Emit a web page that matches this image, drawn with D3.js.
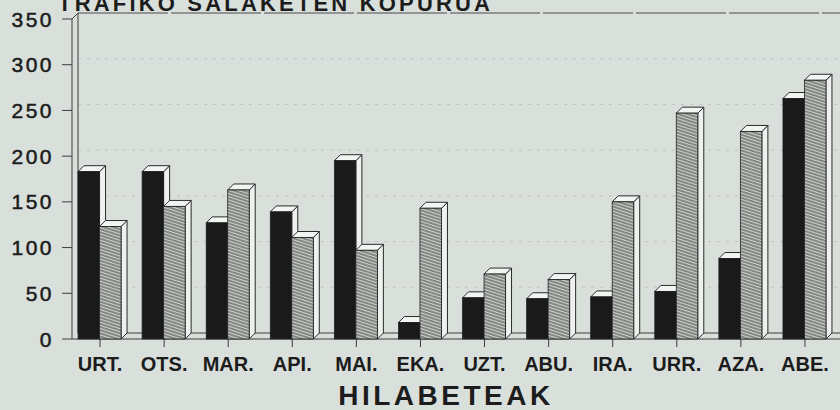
<!DOCTYPE html>
<html>
<head>
<meta charset="utf-8">
<script src="https://cdn.jsdelivr.net/npm/d3@7"></script>
<style>
  html, body { margin: 0; padding: 0; background: #d9dfdb; }
  svg { display: block; }
</style>
</head>
<body>
<svg id="chart"></svg>
<script>
// months (Basque abbreviations)
const hilabeteak = ['URT.', 'OTS.', 'MAR.', 'API.', 'MAI.', 'EKA.', 'UZT.', 'ABU.', 'IRA.', 'URR.', 'AZA.', 'ABE.'];
// dark bars
const serieBeltza = [183, 183, 127, 139, 195, 18, 45, 44, 46, 52, 88, 263];
// hatched bars
const serieMarratua = [123, 145, 163, 111, 97, 143, 71, 65, 150, 247, 227, 283];
const yTicks = [0, 50, 100, 150, 200, 250, 300, 350];

const W = 840, H = 410;
const DX = 6, DY = -6;          // 3D depth offset
const INK = '#1b1c1b';
const FONT = 'Liberation Sans, Arial, sans-serif';

const svg = d3.select('#chart').attr('width', W).attr('height', H);

const defs = svg.append('defs');
const pat = defs.append('pattern')
    .attr('id', 'marrak')
    .attr('patternUnits', 'userSpaceOnUse')
    .attr('width', 6).attr('height', 3)
    .attr('patternTransform', 'rotate(18)');
pat.append('rect').attr('width', 6).attr('height', 3).attr('fill', '#cdd2cd');
pat.append('line')
    .attr('x1', 0).attr('y1', 1).attr('x2', 6).attr('y2', 1)
    .attr('stroke', '#3a3c3a').attr('stroke-width', 1);

// scales
const yScale = d3.scaleLinear().domain([0, 350]).range([339, 19]);
const xScale = d3.scaleBand().domain(hilabeteak).range([68, 837]).padding(0);
const sScale = d3.scaleBand().domain(['b', 'm']).range([-22, 21]).padding(0);

const left = 72, right = 845;

// title (cut at the top of the scan)
svg.append('text')
    .attr('x', 58).attr('y', 11)
    .attr('font-family', FONT)
    .attr('font-weight', 'bold')
    .attr('font-size', 22)
    .attr('textLength', 432)
    .attr('fill', INK)
    .text('TRAFIKO SALAKETEN KOPURUA');

// back wall gridlines
const grid = svg.append('g');
grid.selectAll('line')
    .data(yTicks.filter(d => d > 0 && d < 350))
    .enter().append('line')
    .attr('x1', left + DX).attr('x2', right)
    .attr('y1', d => yScale(d) + DY).attr('y2', d => yScale(d) + DY)
    .attr('stroke', '#b3b9b4').attr('stroke-width', 0.7)
    .attr('stroke-dasharray', '3,6');

// top border of back wall
svg.append('line')
    .attr('x1', left + DX).attr('x2', right)
    .attr('y1', yScale(350) + DY).attr('y2', yScale(350) + DY)
    .attr('stroke', '#4a4d4a').attr('stroke-width', 1)
    .attr('stroke-dasharray', '90,3');

// left wall
const wall = svg.append('g').attr('stroke', '#3c3e3c').attr('stroke-width', 1).attr('fill', 'none');
wall.append('path').attr('d', `M${left},${yScale(0)} L${left},${yScale(350)} L${left + DX},${yScale(350) + DY} L${left + DX},${yScale(0) + DY}`);
// floor
wall.append('line').attr('x1', left).attr('x2', right).attr('y1', yScale(0)).attr('y2', yScale(0));
wall.append('line').attr('x1', left + DX).attr('x2', right).attr('y1', yScale(0) + DY).attr('y2', yScale(0) + DY);

// y axis ticks and labels
const yAx = svg.append('g');
yAx.selectAll('line').data(yTicks).enter().append('line')
    .attr('x1', 62).attr('x2', left)
    .attr('y1', d => yScale(d)).attr('y2', d => yScale(d))
    .attr('stroke', '#3c3e3c').attr('stroke-width', 1);
yAx.selectAll('text').data(yTicks).enter().append('text')
    .attr('x', 54).attr('y', d => yScale(d) + 7.5)
    .attr('text-anchor', 'end')
    .attr('font-family', FONT)
    .attr('font-size', 21)
    .attr('letter-spacing', 2.5)
    .attr('fill', INK)
    .attr('stroke', INK).attr('stroke-width', 0.5)
    .text(d => d);

// x axis ticks and labels
const xAx = svg.append('g');
xAx.selectAll('line').data(hilabeteak).enter().append('line')
    .attr('x1', d => xScale(d) + xScale.bandwidth() / 2)
    .attr('x2', d => xScale(d) + xScale.bandwidth() / 2)
    .attr('y1', yScale(0)).attr('y2', yScale(0) + 8)
    .attr('stroke', '#3c3e3c').attr('stroke-width', 1);
xAx.selectAll('text').data(hilabeteak).enter().append('text')
    .attr('x', d => xScale(d) + xScale.bandwidth() / 2)
    .attr('y', 371)
    .attr('text-anchor', 'middle')
    .attr('font-family', FONT)
    .attr('font-weight', 'bold')
    .attr('font-size', 20)
    .attr('fill', INK)
    .text(d => d);

// axis title
svg.append('text')
    .attr('x', 446).attr('y', 405)
    .attr('text-anchor', 'middle')
    .attr('font-family', FONT)
    .attr('font-weight', 'bold')
    .attr('font-size', 28)
    .attr('letter-spacing', 3.5)
    .attr('fill', INK)
    .text('HILABETEAK');

// bars, drawn left to right so the hatched bar hides the dark bar's side
const bars = [];
hilabeteak.forEach((m, i) => {
    bars.push({ m: m, s: 'b', v: serieBeltza[i] });
    bars.push({ m: m, s: 'm', v: serieMarratua[i] });
});

const bw = sScale.bandwidth();
const g = svg.append('g');
bars.forEach(d => {
    const x0 = xScale(d.m) + xScale.bandwidth() / 2 + sScale(d.s);
    const x1 = x0 + bw;
    const yt = yScale(d.v), yb = yScale(0);
    const bar = g.append('g');
    // side face
    bar.append('path')
        .attr('d', `M${x1},${yb} L${x1},${yt} L${x1 + DX},${yt + DY} L${x1 + DX},${yb + DY} Z`)
        .attr('fill', '#eef1ee').attr('stroke', '#2a2c2a').attr('stroke-width', 1);
    // top face
    bar.append('path')
        .attr('d', `M${x0},${yt} L${x0 + DX},${yt + DY} L${x1 + DX},${yt + DY} L${x1},${yt} Z`)
        .attr('fill', '#f3f5f3').attr('stroke', '#2a2c2a').attr('stroke-width', 1);
    // front face
    bar.append('rect')
        .attr('x', x0).attr('y', yt)
        .attr('width', bw).attr('height', yb - yt)
        .attr('fill', d.s === 'b' ? '#191a19' : 'url(#marrak)')
        .attr('stroke', '#222322').attr('stroke-width', 0.8);
});
</script>
</body>
</html>
